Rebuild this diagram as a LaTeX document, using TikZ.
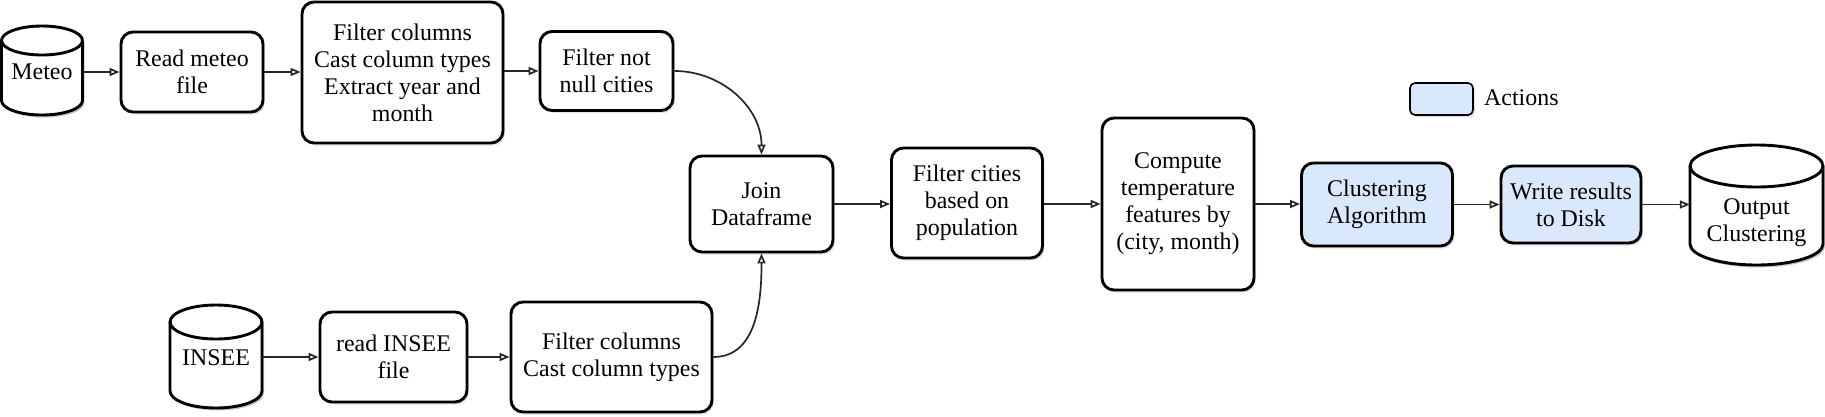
\documentclass[tikz,border=0pt]{standalone}
\usepackage{fontspec}
\setmainfont{Liberation Serif}
\usetikzlibrary{arrows.meta,shadows}
\definecolor{actblue}{HTML}{DAE8FC}
\newcommand\drawcyl[6]{% #1 name, #2 cx, #3 top, #4 bottom, #5 half width, #6 ry
  \path[fill=black,opacity=0.22,shift={(2,-2.5)}] ({#2-#5},{-#3-#6}) -- ({#2-#5},{-#4+#6}) arc[start angle=180,end angle=360,x radius=#5pt,y radius=#6pt] -- ({#2+#5},{-#3-#6}) arc[start angle=0,end angle=180,x radius=#5pt,y radius=#6pt] -- cycle;
  \path[fill=white,cylline] ({#2-#5},{-#3-#6}) -- ({#2-#5},{-#4+#6}) arc[start angle=180,end angle=360,x radius=#5pt,y radius=#6pt] -- ({#2+#5},{-#3-#6}) arc[start angle=0,end angle=180,x radius=#5pt,y radius=#6pt] -- cycle;
  \draw[cylline] ({#2-#5},{-#3-#6}) arc[start angle=180,end angle=360,x radius=#5pt,y radius=#6pt];
  \node[inner sep=0pt,minimum width={(2*#5)*1pt},minimum height={(#4-#3)*1pt}] (#1) at (#2,{-(#3+#4)/2}) {};
}
\begin{document}
\begin{tikzpicture}[x=1pt,y=1pt,
  txt/.style={align=center,inner sep=0pt,font=\fontsize{23.9}{27}\selectfont},
  box/.style={txt,draw=black,line width=2.9pt,rounded corners=12pt,fill=white,
    drop shadow={shadow xshift=2pt,shadow yshift=-2.5pt,opacity=0.22}},
  action/.style={box,fill=actblue},
  cylline/.style={draw=black,line width=2.9pt},
  flow/.style={draw=black!85,line width=1.7pt,-{Triangle[open,length=10pt,width=8pt]}}]
\useasboundingbox (0,0) rectangle (1825,-416);

% cylinders
\drawcyl{meteo}{42}{26}{115}{40.5}{14.5}
\node[txt] (meteot) at (42,-72) {Meteo};
\drawcyl{insee}{216}{305}{408}{46}{17}
\node[txt] (inseet) at (216,-358) {INSEE};
\drawcyl{output}{1756.5}{145}{265}{66.5}{21}
\node[txt] (outputt) at (1756.5,-223) {Output\\Clustering};

% boxes
\node[box,minimum width=142pt,minimum height=80pt] (read) at (192,-72) {Read meteo\\file};
\node[box,minimum width=201pt,minimum height=141pt] (filt1) at (402.5,-72.5) {Filter columns\\Cast column types\\Extract year and\\month};
\node[box,minimum width=133pt,minimum height=79pt] (notnull) at (606.5,-71) {Filter not\\null cities};
\node[box,minimum width=143pt,minimum height=96pt] (join) at (761.5,-204) {Join\\Dataframe};
\node[box,minimum width=151pt,minimum height=110pt] (fcities) at (967,-203) {Filter cities\\based on\\population};
\node[box,minimum width=152pt,minimum height=172pt] (compute) at (1178,-204) {Compute\\temperature\\features by\\(city, month)};
\node[action,minimum width=151pt,minimum height=83pt] (cluster) at (1377,-204.5) {Clustering\\Algorithm};
\node[action,minimum width=140pt,minimum height=77pt] (write) at (1571,-204.5) {Write results\\to Disk};
\node[box,minimum width=147pt,minimum height=90pt] (readinsee) at (393.5,-357) {read INSEE\\file};
\node[box,minimum width=201pt,minimum height=110pt] (filt2) at (611.5,-357) {Filter columns\\Cast column types};

% legend
\node[action,minimum width=63pt,minimum height=32pt,rounded corners=5pt,line width=1.6pt] (leg) at (1441.5,-99) {};
\node[txt,anchor=west] (legt) at (1484,-98) {Actions};

% connectors
\draw[flow] (meteo.east |- read.west) -- (read.west);
\draw[flow] (read.east) -- (read.east -| filt1.west);
\draw[flow] (filt1.east |- notnull.west) -- (notnull.west);
\draw[flow] (notnull.east) to[out=0,in=90] (join.north);
\draw[flow] (filt2.east) to[out=0,in=-90] (join.south);
\draw[flow] (join.east) -- (join.east -| fcities.west);
\draw[flow] (fcities.east |- compute.west) -- (compute.west);
\draw[flow] (compute.east) -- (compute.east -| cluster.west);
\draw[flow] (cluster.east) -- (cluster.east -| write.west);
\draw[flow] (write.east) -- (write.east -| output.west);
\draw[flow] (insee.east |- readinsee.west) -- (readinsee.west);
\draw[flow] (readinsee.east) -- (readinsee.east -| filt2.west);
\end{tikzpicture}
\end{document}
